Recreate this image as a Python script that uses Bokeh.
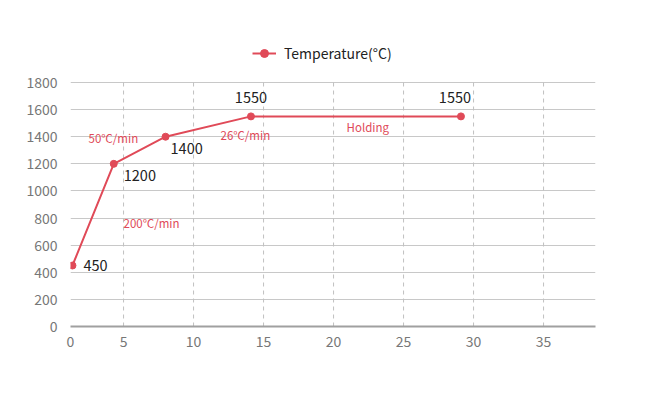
from bokeh.plotting import figure
from bokeh.models import (Range1d, FixedTicker, Legend, LegendItem, ColumnDataSource, Label)
from bokeh.embed import file_html
from bokeh.resources import INLINE

# data
time_min = [1.35, 4.3, 8, 14.1, 29.1]
temperature = [450, 1200, 1400, 1550, 1550]
point_labels = ["450", "1200", "1400", "1550", "1550"]
rate_texts = ["50℃/min", "200℃/min", "26℃/min", "Holding"]
rate_x = [2.5, 5.0, 11.93, 20.93]
rate_y = [1390, 765, 1412, 1471]
x_ticks = [1.21, 5, 10, 15, 20, 25, 30, 35]
x_tick_labels = ["0", "5", "10", "15", "20", "25", "30", "35"]
y_ticks = [0, 200, 400, 600, 800, 1000, 1200, 1400, 1600, 1800]

FONT = "Noto Sans CJK SC"
RED = "#E04A58"
Y_TOP = 1800 * 286 / 244  # frame extends above 1800 to host the legend

p = figure(width=634, height=383, output_backend="svg", toolbar_location=None,
           x_range=Range1d(1.21, 38.71), y_range=Range1d(0, Y_TOP),
           min_border_left=70, min_border_right=39, min_border_top=40, min_border_bottom=57)
p.outline_line_color = None
p.background_fill_color = "white"
p.border_fill_color = "white"

# axes
p.xaxis.ticker = FixedTicker(ticks=x_ticks)
p.xaxis.major_label_overrides = {t: l for t, l in zip(x_ticks, x_tick_labels)}
p.yaxis.ticker = FixedTicker(ticks=y_ticks)
for ax in (p.xaxis, p.yaxis):
    ax.major_tick_line_color = None
    ax.minor_tick_line_color = None
    ax.major_label_text_font = FONT
    ax.major_label_text_font_size = "14px"
    ax.major_label_text_color = "#777777"
p.yaxis.axis_line_color = None
p.xaxis.axis_line_color = "#a0a0a0"
p.xaxis.axis_line_width = 2
p.xaxis.major_label_standoff = 3
p.yaxis.major_label_standoff = 7

p.ygrid.ticker = FixedTicker(ticks=y_ticks[1:])
p.ygrid.grid_line_color = "#c8c8c8"
p.ygrid.grid_line_width = 1
p.xgrid.visible = False
vx = x_ticks[1:]
p.segment(x0=vx, y0=[0] * len(vx), x1=vx, y1=[y_ticks[-1]] * len(vx),
          line_color="#c0c0c0", line_dash="4 4", line_width=1)

src = ColumnDataSource(dict(x=time_min, y=temperature, lab=point_labels))
ln = p.line("x", "y", source=src, line_color=RED, line_width=2)
sc = p.scatter("x", "y", source=src, size=7, fill_color=RED, line_color=RED)

# point labels
offsets = [(11, 0, "left"), (10, -12, "left"), (5, -12, "left"), (0, 19, "center"), (-6, 19, "center")]
for x, y, t, (dx, dy, al) in zip(time_min, temperature, point_labels, offsets):
    p.add_layout(Label(x=x, y=y, text=t, x_offset=dx, y_offset=dy, text_align=al,
                       text_baseline="middle", text_font=FONT, text_font_size="14.5px",
                       text_color="#222222"))

# rate annotations
for t, x, y in zip(rate_texts, rate_x, rate_y):
    p.add_layout(Label(x=x, y=y, text=t, text_align="left", text_baseline="middle",
                       text_font=FONT, text_font_size="11.5px", text_color=RED))

legend = Legend(items=[LegendItem(label="Temperature(°C)", renderers=[ln, sc])],
                orientation="horizontal", location=(182, 263),
                label_text_font=FONT, label_text_font_size="14px", label_text_color="#222222",
                border_line_color=None, background_fill_alpha=0, glyph_width=24,
                glyph_height=20, label_height=20,
                margin=0, padding=0, spacing=0, label_standoff=8)
p.add_layout(legend)

open("out.html", "w").write(file_html(p, INLINE))
